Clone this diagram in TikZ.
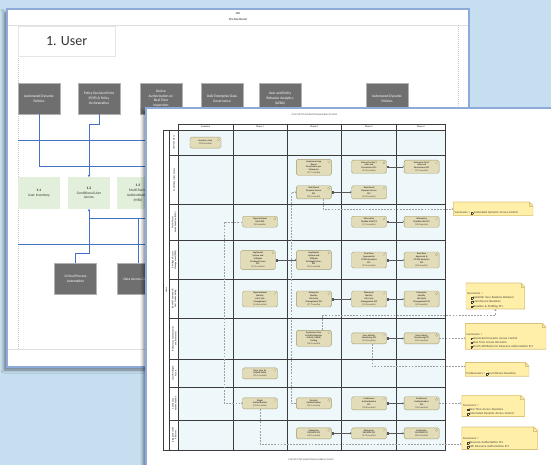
\documentclass[tikz,border=0pt]{standalone}
\usepackage{fontspec}
\setmainfont{Carlito}
\usetikzlibrary{arrows.meta}
\usetikzlibrary{shadows.blur}
\usetikzlibrary{calc}
\definecolor{bgBlue}{HTML}{C5DFF1}
\definecolor{sheetBlue}{HTML}{8EAADB}
\definecolor{linkBlue}{HTML}{4472C4}
\definecolor{pillarGrey}{HTML}{6F6F6F}
\definecolor{capGreen}{HTML}{E2EFDA}
\definecolor{cellCyan}{HTML}{EEF8FB}
\definecolor{actTan}{HTML}{E3DCB8}
\definecolor{actEdge}{HTML}{A39A6C}
\definecolor{noteYellow}{HTML}{FFEFA8}
\definecolor{noteEdge}{HTML}{D9C27A}
\definecolor{gridGrey}{HTML}{3C3C3C}
\newcommand{\noteicon}{{\fboxrule=0.2pt\fboxsep=0pt\fbox{\rule{0pt}{1.3pt}\rule{1.3pt}{0pt}}}\kern0.6pt}

\tikzset{
    sheet/.style={fill=white, draw=sheetBlue, line width=1.3pt,
        blur shadow={shadow xshift=-3pt, shadow yshift=-3pt, shadow blur radius=3pt, shadow opacity=45}},
    pillar/.style={fill=pillarGrey, draw=gray!60, line width=0.4pt, text=white, minimum width=42pt,
        minimum height=31pt, align=center, inner sep=1pt, font=\fontsize{3.6}{4.8}\selectfont},
    capab/.style={fill=capGreen, minimum width=42pt, minimum height=31.5pt, align=center, inner sep=1pt,
        text=black!80, font=\fontsize{3.6}{4.8}\selectfont},
    link/.style={draw=linkBlue, line width=0.7pt},
    activity/.style={rounded corners=1.5pt, fill=actTan, draw=actEdge, line width=0.4pt, minimum width=35pt,
        minimum height=11pt, align=center, inner sep=1.2pt, text=black!75,
        font=\fontsize{2.3}{2.9}\selectfont\bfseries,
        path picture={\draw [actEdge, fill=white, line width=0.25pt]
            ([xshift=-2.6pt, yshift=-2.6pt]path picture bounding box.north east) circle (1pt);}},
    note/.style={fill=noteYellow, anchor=north west, align=left, inner sep=1.5pt, text=black!75,
        font=\fontsize{3}{4.2}\selectfont,
        path picture={
            \fill [white] ([xshift=-4pt]path picture bounding box.north east) -- (path picture bounding box.north east)
                -- ([yshift=-4pt]path picture bounding box.north east) -- cycle;
            \draw [noteEdge, line width=0.8pt] (path picture bounding box.north west)
                -- ([xshift=-4pt]path picture bounding box.north east) -- ([yshift=-4pt]path picture bounding box.north east)
                -- (path picture bounding box.south east) -- (path picture bounding box.south west) -- cycle;
            \draw [noteEdge, line width=0.4pt] ([xshift=-4pt]path picture bounding box.north east)
                |- ([yshift=-4pt]path picture bounding box.north east);}},
    flow/.style={draw=gray!70!black, line width=0.35pt,
        {Square[open, length=1.4pt, width=1.8pt]}-{Straight Barb[length=1pt, width=2.2pt]}},
    trace/.style={draw=gray!75, line width=0.35pt, dash pattern=on 1.8pt off 1.3pt,
        -{Straight Barb[length=1pt, width=2.2pt]}},
    tiny/.style={font=\fontsize{2.6}{3.2}\selectfont, text=black!70}
}

\begin{document}
\begin{tikzpicture}[x=1pt, y=-1pt]
    \useasboundingbox (0,0) rectangle (551,465);
    \clip (0,0) rectangle (551,465);
    \fill [bgBlue] (0,0) rectangle (551,465);

    % back sheet: capability map
    \path [sheet] (7,9) rectangle (469,367);
    \node [tiny, font=\fontsize{3}{3.6}\selectfont\bfseries] (cui) at (238,13.5) {CUI};
    \node [tiny, font=\fontsize{3}{3.6}\selectfont\bfseries] (predec) at (238,19) {Pre-Decisional};
    \draw [gray!25, line width=0.3pt] (8,25) -- (468,25);
    \draw [gray!25, line width=0.3pt] (8,349) -- (468,349);
    \draw [gray!45, line width=0.3pt, dash pattern=on 1pt off 1pt] (18,56) -- (18,349);
    \draw [gray!45, line width=0.3pt, dash pattern=on 1pt off 1pt] (458.5,25) -- (458.5,349);
    \node [draw=gray!20, line width=0.3pt, anchor=north west, minimum width=97pt, minimum height=30pt,
        text=black!80, font=\fontsize{14}{16}\selectfont] (usertitle) at (18,26) {1. User};

    \node [pillar] (adp) at (39,98.5) {Automated Dynamic\\Policies};
    \node [pillar] (pdp) at (99,98.5) {Policy Decision Point\\(PDP) \& Policy\\Orchestration};
    \node [pillar] (devauth) at (161,98.5) {Device\\Authorization w/\\Real Time\\Inspection};
    \node [pillar] (datagov) at (222,98.5) {DoD Enterprise Data\\Governance};
    \node [pillar] (ueba) at (280,98.5) {User and Entity\\Behavior Analytics\\(UEBA)};
    \node [pillar] (adpb) at (387,98.5) {Automated Dynamic\\Policies};

    \node [capab] (cap1) at (39,193) {\textbf{1.1}\\User Inventory};
    \node [capab] (cap2) at (89,193) {\textbf{1.2}\\Conditional User\\Access};
    \node [capab] (cap3) at (138,193) {\textbf{1.3}\\Multi-Factor\\Authentication\\(MFA)};

    \node [pillar] (cpa) at (75.5,279) {Critical Process\\Automation};
    \node [pillar] (dac) at (138,279) {Data Access Control};

    \draw [link] (18,140) -- (150,140);
    \draw [link] (18,244) -- (150,244);
    \coordinate (adpout) at (150,166);
    \coordinate (upjoin) at (89,218.7);
    \coordinate (upout) at (150,218.7);
    \draw [link] (adp.south) |- (adpout);
    \draw [link, -{Stealth[length=2.5pt, width=2.5pt]}] (pdp.south) -- ++(0,10) -| (cap2.north);
    \draw [link, -{Stealth[length=2.5pt, width=2.5pt]}] (upjoin) -- (cap2.south);
    \draw [link] (cpa.north) -- ++(0,-10) -| (upjoin);
    \draw [link] (dac.north) |- (upjoin);
    \draw [link] (upjoin) -- (upout);

    % front sheet: roadmap
    \path [sheet] (146,108) rectangle (600,520);
    \node [tiny] (cuihead) at (314.5,115) {CUI//SP-CTI/Limited Dissemination Control};
    \node [tiny] (cuifoot) at (311,460) {CUI//SP-CTI/Limited Dissemination Control};

    \fill [cellCyan] (178.5,130) rectangle (445.2,450);
    \draw [gridGrey, line width=0.5pt] (178.5,124.3) rectangle (445.2,130);
    \foreach \x in {178.5, 233, 287, 341.2, 396.3, 445.2} {\draw [gridGrey, line width=0.6pt] (\x,124.3) -- (\x,450);};
    \foreach \y in {155.7, 204.3, 240.7, 279.3, 318.3, 359.3, 387.3, 420} {\draw [gridGrey, line width=0.5pt] (169.7,\y) -- (445.2,\y);};
    \draw [gridGrey, line width=0.5pt] (163.4,130) rectangle (445.2,450);
    \draw [gridGrey, line width=0.5pt] (169.7,130) -- (169.7,450);
    \foreach \xc/\txt [count=\i] in {205.7/Inventory, 260/Phase 1, 314.1/Phase 2, 368.8/Phase 3, 420.8/Phase 4}
        {\node [tiny, font=\fontsize{2.3}{2.8}\selectfont\bfseries] (phase\i) at (\xc,127.2) {\txt};};
    \node [tiny, rotate=90, font=\fontsize{2.3}{2.8}\selectfont\bfseries] (users) at (166.5,290) {Users};
    \foreach \yc/\txt [count=\i] in {142.9/{User Inventory}, 180/{Conditional User Access},
        222.5/{Multi-Factor\\Authentication (MFA)}, 260/{Privileged Access\\Management (PAM)},
        298.8/{Identity Federation \&\\User Credentialing}, 338.8/{Behavioral, Contextual ID,\\and Biometrics},
        373.3/{Least Privileged\\Access}, 403.7/{Continuous\\Authentication}, 435/{Integrated ICAM\\Platform}}
        {\node [tiny, rotate=90, align=center, inner sep=0.5pt, font=\fontsize{2.3}{2.8}\selectfont\bfseries] (lane\i) at (174.1,\yc) {\txt};};

    \node [activity, minimum width=31pt] (inv) at (205.5,142.7) {Inventory User\\\mdseries(22.0 months)};
    \node [activity] (app) at (313.8,167.3) {Implement App\\Based\\Permissions per\\Enterprise\\\mdseries(17.7 months)};
    \node [activity] (gov1) at (369,166.7) {Enterprise Gov't\\roles and\\Permissions Pt1\\\mdseries(11.8 months)};
    \node [activity] (gov2) at (421.6,166.7) {Enterprise Gov't\\roles and\\Permissions Pt2\\\mdseries(11.2 months)};
    \node [activity] (rule1) at (313.8,192.3) {Rule Based\\Dynamic Access\\Pt1\\\mdseries(20.1 months)};
    \node [activity] (rule2) at (369,192.3) {Rule Based\\Dynamic Access\\Pt2\\\mdseries(19.0 months)};
    \node [activity] (mfa) at (260,221.7) {Organizational\\MFA/IDP\\\mdseries(8.0 months)};
    \node [activity] (alt1) at (369,221.7) {Alternative\\Flexible MFA Pt1\\\mdseries(17.4 months)};
    \node [activity] (alt2) at (421.6,221.7) {Alternative\\Flexible MFA Pt2\\\mdseries(14.8 months)};
    \node [activity] (pam1) at (258,260) {Implement\\System and\\Mitigate\\Privileged Users\\Pt1\\\mdseries(13.4 months)};
    \node [activity] (pam2) at (313.8,260) {Implement\\System and\\Mitigate\\Privileged Users\\Pt2\\\mdseries(14.4 months)};
    \node [activity] (jit1) at (369,260) {Real-time\\Approvals \&\\JIT/JEA Analytics\\Pt1\\\mdseries(12.5 months)};
    \node [activity] (jit2) at (421.6,260) {Real-time\\Approvals \&\\JIT/JEA Analytics\\Pt2\\\mdseries(8.0 months)};
    \node [activity] (oil) at (260,299) {Organizational\\Identity\\Life-Cycle\\Management\\\mdseries(14.8 months)};
    \node [activity] (eil1) at (313.8,299) {Enterprise\\Identity\\Life-Cycle\\Management Pt1\\\mdseries(17.7 months)};
    \node [activity] (eil2) at (369,299) {Enterprise\\Identity\\Life-Cycle\\Management Pt2\\\mdseries(12.0 months)};
    \node [activity] (eil3) at (421.6,299) {Enterprise\\Identity\\Life-Cycle\\Management Pt3\\\mdseries(8.2 months)};
    \node [activity] (uebatool) at (313.8,338.3) {Implement User\\\& Entity Behavior\\Activity (UEBA)\\Tooling\\\mdseries(15.0 months)};
    \node [activity] (uam1) at (369,338.3) {User Activity\\Monitoring Pt1\\\mdseries(12.0 months)};
    \node [activity] (uam2) at (421.6,338.3) {User Activity\\Monitoring Pt2\\\mdseries(11.2 months)};
    \node [activity] (deny) at (260,373.3) {Deny User by\\Default Policy\\\mdseries(20.7 months)};
    \node [activity] (single) at (260,403.3) {Single\\Authentication\\\mdseries(10.0 months)};
    \node [activity] (periodic) at (313.8,403.3) {Periodic\\Authentication\\\mdseries(20.1 months)};
    \node [activity] (cont1) at (369,403.3) {Continuous\\Authentication\\Pt1\\\mdseries(18.0 months)};
    \node [activity] (cont2) at (421.6,403.3) {Continuous\\Authentication\\Pt2\\\mdseries(14.8 months)};
    \node [activity] (pki1) at (313.8,433.3) {Enterprise\\PKI/HSM Pt1\\\mdseries(12.0 months)};
    \node [activity] (pki2) at (369,433.3) {Enterprise\\PKI/HSM Pt2\\\mdseries(27.0 months)};
    \node [activity] (pki3) at (421.6,433.3) {Enterprise\\PKI/HSM Pt3\\\mdseries(30.0 months)};

    \foreach \a/\b in {gov1/gov2, rule1/rule2, alt1/alt2, pam1/pam2, jit1/jit2, eil1/eil2, eil2/eil3,
        uam1/uam2, cont1/cont2, pki1/pki2, pki2/pki3} {\draw [flow] (\a) -- (\b);};

    \node [note, text width=77pt] (succ1) at (453,201.7)
        {\rule{0pt}{10.5pt}Successors = \noteicon Automated Dynamic Access Control};
    \node [note, text width=56pt] (succ2) at (465.6,282.7)
        {\rule{0pt}{10pt}Successors =\\\hspace*{4pt}\noteicon Establish User Baseline Behavior\\\hspace*{4pt}\noteicon User/Device Baselines\\\hspace*{4pt}\noteicon Baseline \& Profiling Pt1};
    \node [note, text width=78pt] (succ3) at (465,323.3)
        {\rule{0pt}{10pt}Successors =\\\hspace*{4pt}\noteicon Automated Dynamic Access Control\\\hspace*{4pt}\noteicon Real Time Access Decisions\\\hspace*{4pt}\noteicon Enrich Attributes for Resource Authorization Pt1};
    \node [note, text width=61pt] (pred1) at (465,362.3)
        {\rule{0pt}{10.6pt}Predecessors = \noteicon User/Device Baselines};
    \node [note, text width=60pt] (succ4) at (461.4,395)
        {\rule{0pt}{9.5pt}Successors =\\\hspace*{4pt}\noteicon Real Time Access Decisions\\\hspace*{4pt}\noteicon Automated Dynamic Access Control};
    \node [note, text width=73pt] (succ5) at (461.4,426.7)
        {\rule{0pt}{11pt}Successors =\\\hspace*{4pt}\noteicon Resource Authorization Pt1\\\hspace*{4pt}\noteicon SDC Resource Authorization Pt1};

    \draw [trace] ([xshift=9pt]rule1.south) |- (succ1.west);
    \draw [trace] (mfa.west) -- ++(-18,0) |- (single.west);
    \draw [trace] (periodic.west) -- ++(-5,0) |- (rule1.west);
    \draw [trace] ([xshift=8pt]uebatool.north) |- ($(succ2.south)+(0,6)$) -- (succ2.south);
    \draw [trace] (uam2.east) -- (succ3.west |- uam2.east);
    \draw [trace] ([xshift=3pt]uam1.south) |- ([yshift=3pt]pred1.west);
    \draw [trace] (cont2.east) -- (succ4.west |- cont2.east);
    \draw [trace] (single.south) |- ([yshift=-6pt]succ5.west);
\end{tikzpicture}
\end{document}
